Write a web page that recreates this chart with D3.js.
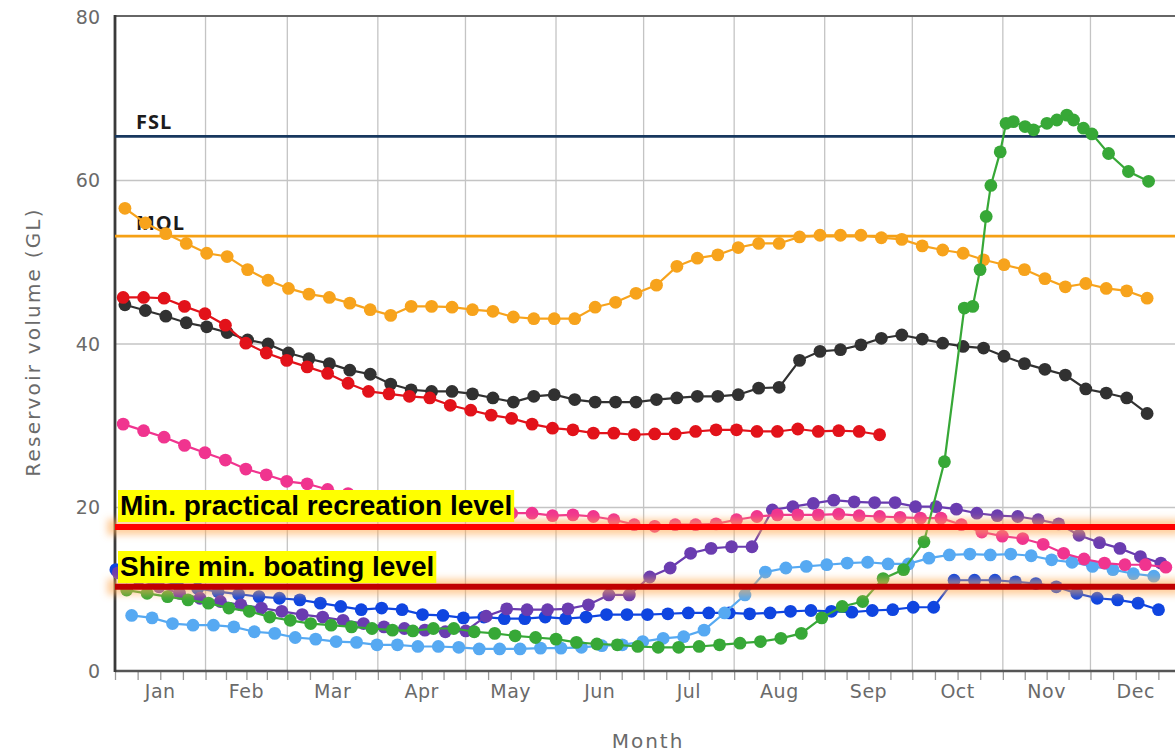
<!DOCTYPE html>
<html>
<head>
<meta charset="utf-8">
<script src="https://cdn.jsdelivr.net/npm/d3@7"></script>
<style>
html, body { margin: 0; padding: 0; background: #fff; }
svg { display: block; }
</style>
</head>
<body>
<svg id="chart" width="1175" height="755"></svg>
<script>
// ---- data (reservoir volume in GL, weekly readings) ----
let yTicks = [0, 20, 40, 60, 80];

let fslLevel = 65.4;
let molLevel = 53.2;
let recreationLevel = 17.6;
let boatingLevel = 10.3;

// first reading (day of year) of each weekly series
let orangeStart = 3.4, blackStart = 3.4, redStart = 2.8, pinkStart = 2.8;
let purpleStart = 1.1, blueStart = 0.3, lightBlueStart = 5.7;

let orangeVals = [56.6, 54.8, 53.5, 52.3, 51.1, 50.7, 49.1, 47.8, 46.8, 46.1, 45.7, 45.0, 44.2, 43.5, 44.6, 44.6, 44.5,
  44.2, 44.0, 43.3, 43.1, 43.1, 43.1, 44.5, 45.1, 46.2, 47.2, 49.5, 50.5, 50.9, 51.8, 52.3, 52.3, 53.1, 53.3, 53.3, 53.3,
  53.0, 52.8, 52.0, 51.5, 51.1, 50.3, 49.7, 49.1, 48.0, 47.0, 47.4, 46.8, 46.5, 45.6];

let blackVals = [44.8, 44.1, 43.4, 42.6, 42.1, 41.4, 40.5, 40.0, 38.9, 38.2, 37.6, 36.8, 36.3, 35.1, 34.4, 34.2, 34.2,
  33.9, 33.4, 32.9, 33.6, 33.8, 33.2, 32.9, 32.9, 32.9, 33.2, 33.4, 33.6, 33.6, 33.8, 34.6, 34.7, 38.0, 39.1, 39.3, 39.9,
  40.7, 41.1, 40.6, 40.1, 39.7, 39.5, 38.5, 37.6, 36.9, 36.2, 34.5, 34.0, 33.4, 31.5];

let redVals = [45.7, 45.7, 45.6, 44.6, 43.7, 42.3, 40.1, 38.9, 38.0, 37.2, 36.4, 35.2, 34.2, 33.9, 33.6, 33.4, 32.5,
  31.9, 31.3, 30.9, 30.2, 29.7, 29.5, 29.1, 29.1, 28.9, 29.0, 29.0, 29.3, 29.5, 29.5, 29.3, 29.3, 29.6, 29.3, 29.4, 29.3,
  28.9];

let pinkVals = [30.2, 29.4, 28.6, 27.6, 26.7, 25.8, 24.7, 24.0, 23.2, 22.9, 22.2, 21.7, 21.2, 20.8, 20.5, 20.2, 19.9,
  19.7, 19.5, 19.3, 19.3, 19.0, 19.1, 18.9, 18.5, 17.9, 17.7, 17.9, 17.9, 18.0, 18.5, 18.9, 19.1, 19.1, 19.1, 19.2, 19.0,
  18.9, 18.8, 18.7, 18.7, 17.9, 17.0, 16.5, 16.2, 15.5, 14.4, 13.7, 13.2, 13.0, 13.0, 12.7];

let purpleVals = [12.0, 11.2, 10.3, 9.5, 8.9, 8.5, 8.1, 7.7, 7.3, 6.9, 6.6, 6.2, 5.8, 5.4, 5.2, 5.0, 4.8, 4.9, 6.7, 7.6,
  7.5, 7.5, 7.6, 8.1, 9.3, 9.3, 11.5, 12.6, 14.4, 15.0, 15.2, 15.2, 19.7, 20.1, 20.5, 20.9, 20.7, 20.6, 20.6, 20.1, 20.1,
  19.8, 19.3, 19.0, 18.9, 18.5, 18.0, 16.6, 15.7, 15.0, 14.0, 13.2];

let blueVals = [12.4, 11.8, 11.2, 10.6, 10.1, 9.7, 9.4, 9.1, 8.9, 8.7, 8.3, 7.9, 7.5, 7.7, 7.5, 6.9, 6.8, 6.5, 6.6, 6.4,
  6.4, 6.6, 6.4, 6.6, 6.9, 6.9, 6.9, 7.0, 7.1, 7.1, 7.1, 7.0, 7.1, 7.3, 7.4, 7.3, 7.2, 7.4, 7.5, 7.8, 7.8, 11.1, 11.1,
  11.1, 10.9, 10.7, 10.3, 9.5, 8.9, 8.7, 8.3, 7.5];

let lightBlueVals = [6.8, 6.5, 5.8, 5.6, 5.6, 5.4, 4.8, 4.6, 4.1, 3.9, 3.6, 3.5, 3.2, 3.2, 3.0, 3.0, 2.9, 2.7, 2.7, 2.7,
  2.8, 2.8, 2.9, 3.1, 3.2, 3.6, 4.0, 4.2, 5.0, 7.1, 9.3, 12.1, 12.6, 12.8, 13.0, 13.2, 13.3, 13.1, 13.1, 13.8, 14.2,
  14.3, 14.2, 14.3, 14.1, 13.6, 13.3, 12.8, 12.4, 11.9, 11.6];

// green readings became more frequent once the dam started filling
let greenDays = [4, 11, 18, 25, 32, 39, 46, 53, 60, 67, 74, 81, 88, 95, 102, 109, 116, 123, 130, 137, 144, 151, 158,
  165, 172, 179, 186, 193, 200, 207, 214, 221, 228, 235, 242, 249, 256, 263, 270, 277, 284, 290.8, 293.7, 296.2, 298.3,
  299.9, 303.1, 305.1, 307.6, 311.6, 314.5, 319.1, 322.5, 325.9, 328.2, 331.6, 334.5, 340.2, 347.0, 353.9];
let greenVals = [9.9, 9.5, 9.1, 8.7, 8.3, 7.7, 7.3, 6.6, 6.2, 5.8, 5.6, 5.4, 5.2, 5.0, 4.9, 5.2, 5.2, 4.8, 4.6, 4.3,
  4.1, 3.9, 3.5, 3.3, 3.2, 3.0, 2.9, 2.9, 3.0, 3.2, 3.4, 3.6, 4.0, 4.6, 6.5, 7.9, 8.5, 11.3, 12.4, 15.8, 25.6, 44.4,
  44.6, 49.1, 55.6, 59.4, 63.5, 67.0, 67.2, 66.6, 66.2, 67.0, 67.4, 68.0, 67.4, 66.4, 65.7, 63.3, 61.1, 59.9];

// ---- layout ----
let plotL = 115, plotR = 1181, plotT = 17, plotB = 671;
let year0 = new Date(2015, 0, 1), year1 = new Date(2016, 0, 1);

let svg = d3.select('#chart');
let x = d3.scaleTime().domain([year0, year1]).range([plotL, plotR]);
let y = d3.scaleLinear().domain([0, 80]).range([plotB, plotT]);

function dayDate(d) {
    return new Date(year0.getTime() + d * 864e5);
}

function weekly(start, vals) {
    return vals.map(function (v, i) { return {date: dayDate(start + 7 * i), v: v}; });
}

let series = [
    {color: '#f7a31c', pts: weekly(orangeStart, orangeVals)},
    {color: '#313131', pts: weekly(blackStart, blackVals)},
    {color: '#e2121a', pts: weekly(redStart, redVals)},
    {color: '#0f45e0', pts: weekly(blueStart, blueVals)},
    {color: '#56a9f2', pts: weekly(lightBlueStart, lightBlueVals)},
    {color: '#6a3cb0', pts: weekly(purpleStart, purpleVals)},
    {color: '#f0348f', pts: weekly(pinkStart, pinkVals)},
    {color: '#37a837', pts: greenVals.map(function (v, i) { return {date: dayDate(greenDays[i]), v: v}; })}
];

// a horizontal line has a zero-height bbox, so the glow filter works in user space
let defs = svg.append('defs');
defs.append('filter').attr('id', 'glow')
    .attr('filterUnits', 'userSpaceOnUse')
    .attr('x', 0).attr('y', 0).attr('width', 1175).attr('height', 755)
    .append('feGaussianBlur').attr('stdDeviation', 3.5);

// ---- grid ----
let months = d3.timeMonth.range(year0, year1);
let grid = svg.append('g').attr('stroke', '#c4c4c4').attr('stroke-width', 1.3);
grid.selectAll('.vg').data(months.slice(1)).join('line')
    .attr('x1', d => x(d)).attr('x2', d => x(d)).attr('y1', plotT).attr('y2', plotB);
grid.selectAll('.hg').data(yTicks.filter(t => t > 0 && t < 80)).join('line')
    .attr('x1', plotL).attr('x2', plotR).attr('y1', d => y(d)).attr('y2', d => y(d));

// quarter-month ticks
let quarterTicks = [];
months.forEach(function (m) {
    let next = d3.timeMonth.offset(m, 1);
    [0, 0.25, 0.5, 0.75].forEach(function (q) {
        quarterTicks.push(new Date(m.getTime() + (next - m) * q));
    });
});

let xAxis = svg.append('g').attr('transform', 'translate(0,' + plotB + ')')
    .call(d3.axisBottom(x).tickValues(quarterTicks).tickFormat('').tickSize(9).tickSizeOuter(0));
xAxis.select('.domain').remove();
xAxis.selectAll('.tick line').attr('stroke', '#999').attr('stroke-width', 1.3);

// month labels at mid-month
svg.append('g').selectAll('text').data(months).join('text')
    .attr('x', d => x(new Date(d.getTime() + (d3.timeMonth.offset(d, 1) - d) / 2)))
    .attr('y', 698)
    .attr('text-anchor', 'middle')
    .attr('font-family', 'DejaVu Sans')
    .attr('font-size', 19)
    .attr('letter-spacing', 0.5)
    .attr('fill', '#6a6a6a')
    .text(d3.timeFormat('%b'));

let yAxis = svg.append('g').attr('transform', 'translate(' + plotL + ',0)')
    .call(d3.axisLeft(y).tickValues(yTicks).tickSize(0).tickPadding(15));
yAxis.select('.domain').remove();
yAxis.selectAll('text').attr('font-family', 'DejaVu Sans').attr('font-size', 19).attr('fill', '#6a6a6a');

// frame
svg.append('line').attr('x1', plotL).attr('x2', 1175).attr('y1', plotT - 1).attr('y2', plotT - 1)
    .attr('stroke', '#666').attr('stroke-width', 1.8);
svg.append('line').attr('x1', plotL).attr('x2', 1175).attr('y1', plotB).attr('y2', plotB)
    .attr('stroke', '#555').attr('stroke-width', 2.5);
svg.append('line').attr('x1', plotL).attr('x2', plotL).attr('y1', plotT - 2).attr('y2', plotB + 1)
    .attr('stroke', '#3a3a3a').attr('stroke-width', 2.8);

// titles
svg.append('text')
    .attr('transform', 'translate(40,342) rotate(-90)')
    .attr('text-anchor', 'middle')
    .attr('font-family', 'DejaVu Sans').attr('font-size', 20).attr('letter-spacing', 2.2)
    .attr('fill', '#6a6a6a')
    .text('Reservoir volume (GL)');
svg.append('text')
    .attr('x', 648).attr('y', 748)
    .attr('text-anchor', 'middle')
    .attr('font-family', 'DejaVu Sans').attr('font-size', 20).attr('letter-spacing', 2)
    .attr('fill', '#6a6a6a')
    .text('Month');

// ---- FSL / MOL plot lines ----
function plotLine(level, color, label, labelY) {
    svg.append('line').attr('x1', plotL).attr('x2', 1175).attr('y1', y(level)).attr('y2', y(level))
        .attr('stroke', color).attr('stroke-width', 2.6);
    svg.append('text').attr('x', 136).attr('y', labelY)
        .attr('font-family', 'Open Sans').attr('font-weight', 700).attr('font-size', 20)
        .attr('letter-spacing', 1).attr('fill', '#1c1c1c')
        .text(label);
}
plotLine(fslLevel, '#17375e', 'FSL', 129);
plotLine(molLevel, '#f5a014', 'MOL', 230);

// ---- series ----
let line = d3.line().x(d => x(d.date)).y(d => y(d.v));
series.forEach(function (s) {
    let g = svg.append('g');
    g.append('path').datum(s.pts).attr('d', line)
        .attr('fill', 'none').attr('stroke', s.color).attr('stroke-width', 2.2);
    g.selectAll('circle').data(s.pts).join('circle')
        .attr('cx', d => x(d.date)).attr('cy', d => y(d.v)).attr('r', 6.4)
        .attr('fill', s.color);
});

// ---- recreation / boating thresholds ----
function threshold(level, color, label, boxTop) {
    svg.append('line').attr('x1', plotL - 8).attr('x2', 1180).attr('y1', y(level)).attr('y2', y(level))
        .attr('stroke', '#ffa850').attr('stroke-opacity', 0.55).attr('stroke-width', 16)
        .attr('filter', 'url(#glow)');
    svg.append('line').attr('x1', plotL).attr('x2', 1175).attr('y1', y(level)).attr('y2', y(level))
        .attr('stroke', color).attr('stroke-width', 6);
    let t = svg.append('text').attr('x', 120).attr('y', boxTop + 25)
        .attr('font-family', 'Liberation Sans, Arial, sans-serif').attr('font-weight', 700).attr('font-size', 28)
        .attr('fill', '#000')
        .text(label);
    let bb = t.node().getBBox();
    svg.insert('rect', function () { return t.node(); })
        .attr('x', 118).attr('y', boxTop).attr('width', bb.width + 4).attr('height', 32)
        .attr('fill', '#ffff00');
}
threshold(recreationLevel, '#ff0000', 'Min. practical recreation level', 490);
threshold(boatingLevel, '#c00000', 'Shire min. boating level', 551);
</script>
</body>
</html>
